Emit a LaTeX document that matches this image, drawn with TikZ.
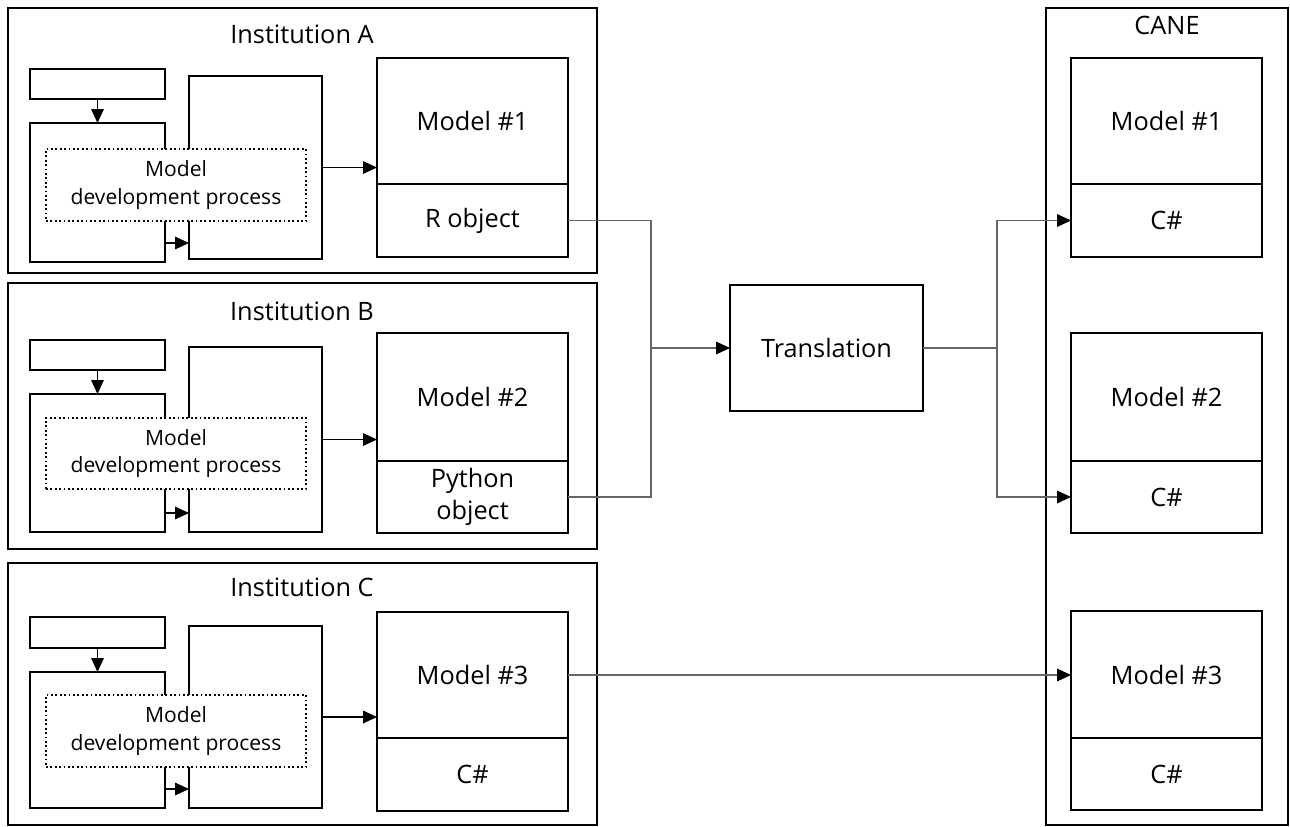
\documentclass[tikz,border=0pt]{standalone}
\usepackage{fontspec}
\setmainfont{Open Sans}
\usepackage{tikz}
\usetikzlibrary{arrows.meta,positioning}

\begin{document}
\begin{tikzpicture}[x=0.75pt,y=0.75pt,yscale=-1,xscale=1,
    sz/.style 2 args={minimum width=#1*0.75pt, minimum height=#2*0.75pt},
    frame/.style={draw, line width=1.8pt, inner sep=0pt, outer sep=0pt},
    blk/.style={draw, line width=1.6pt, fill=white, inner sep=0pt, outer sep=0pt, align=center,
        font=\fontsize{19}{24}\selectfont},
    dev/.style={draw, dotted, line width=1.3pt, fill=white, inner sep=0pt, outer sep=0pt, align=center,
        font=\fontsize{15.8}{20.5}\selectfont},
    title/.style={inner sep=0pt, font=\fontsize{19}{22}\selectfont},
    arr/.style={draw, line width=0.8pt, -{Triangle[length=10.5pt,width=9.5pt]}},
    link/.style={draw=black!60, line width=0.9pt},
    tip/.style={-{Triangle[length=10.5pt,width=9.5pt,color=black]}}]
\useasboundingbox (0,0) rectangle (1290,826);

% Institution A
\node[frame, sz={589}{265}] (instA) at (302.5,140.5) {};
\node[title] (titA) at (302,34) {Institution A};
\node[blk, sz={135}{30}] (topA) at (97.5,84) {};
\node[blk, sz={135}{139}] (leftA) at (97.5,192.5) {};
\node[blk, sz={133}{183}] (rightA) at (255.5,167.5) {};
\node[dev, sz={260}{72}] (devA) at (176,185) {Model\\development process};
\node[blk, sz={191}{126}] (modA) at (472.5,121) {Model \#1};
\node[blk, sz={191}{73}] (objA) at (472.5,220.5) {R object};
\coordinate (ltA) at ([yshift=-14.25pt]leftA.south east);
\draw[arr] (topA) -- (leftA);
\draw[arr] (ltA) -- (ltA -| rightA.west);
\draw[arr] (rightA.east) -- (rightA.east -| modA.west);

% Institution B
\node[frame, sz={589}{266}] (instB) at (302.5,416) {};
\node[title] (titB) at (302,311) {Institution B};
\node[blk, sz={135}{30}] (topB) at (97.5,355) {};
\node[blk, sz={135}{138}] (leftB) at (97.5,463) {};
\node[blk, sz={133}{185}] (rightB) at (255.5,439.5) {};
\node[dev, sz={260}{71}] (devB) at (176,453.5) {Model\\development process};
\node[blk, sz={191}{128}] (modB) at (472.5,397) {Model \#2};
\node[blk, sz={191}{72}] (objB) at (472.5,497) {Python\\object};
\coordinate (ltB) at ([yshift=-14.25pt]leftB.south east);
\draw[arr] (topB) -- (leftB);
\draw[arr] (ltB) -- (ltB -| rightB.west);
\draw[arr] (rightB.east) -- (rightB.east -| modB.west);

% Institution C
\node[frame, sz={589}{262}] (instC) at (302.5,694) {};
\node[title] (titC) at (302,587) {Institution C};
\node[blk, sz={135}{31}] (topC) at (97.5,632.5) {};
\node[blk, sz={135}{136}] (leftC) at (97.5,740) {};
\node[blk, sz={133}{182}] (rightC) at (255.5,717) {};
\node[dev, sz={260}{72}] (devC) at (176,731) {Model\\development process};
\node[blk, sz={191}{126}] (modC) at (472.5,675) {Model \#3};
\node[blk, sz={191}{73}] (objC) at (472.5,774.5) {C\#};
\coordinate (ltC) at ([yshift=-14.25pt]leftC.south east);
\draw[arr] (topC) -- (leftC);
\draw[arr] (ltC) -- (ltC -| rightC.west);
\draw[arr] (rightC.east) -- (rightC.east -| modC.west);

% CANE
\node[frame, sz={242}{817}] (cane) at (1167,416.5) {};
\node[title] (titCane) at (1167,25) {CANE};
\node[blk, sz={191}{126}] (caneM1) at (1166.5,121) {Model \#1};
\node[blk, sz={191}{73}] (caneO1) at (1166.5,220.5) {C\#};
\node[blk, sz={191}{128}] (caneM2) at (1166.5,397) {Model \#2};
\node[blk, sz={191}{72}] (caneO2) at (1166.5,497) {C\#};
\node[blk, sz={191}{127}] (caneM3) at (1166.5,674.5) {Model \#3};
\node[blk, sz={191}{72}] (caneO3) at (1166.5,774) {C\#};

% Translation
\node[blk, sz={193}{126}] (trans) at (826.5,348) {Translation};

% Connection
\coordinate (merge) at (651,348);
\coordinate (fork) at (997,348);
\draw[link] (objA.east) -| (merge);
\draw[link] (objB.east) -| (merge);
\draw[link, tip] (merge) -- (trans.west);
\draw[link] (trans.east) -- (fork);
\draw[link, tip] (fork) |- (caneO1.west);
\draw[link, tip] (fork) |- (caneO2.west);
\draw[link, tip] (modC.east) -- (modC.east -| caneM3.west);

\end{tikzpicture}
\end{document}
